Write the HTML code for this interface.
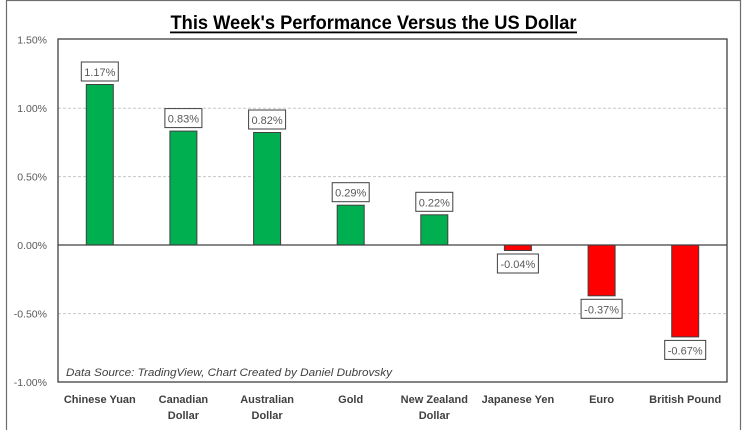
<!DOCTYPE html>
<html>
<head>
<meta charset="utf-8">
<style>
html,body{margin:0;padding:0;background:#fff;}
svg{display:block;}
text{font-family:"Liberation Sans",Arial,sans-serif;}
</style>
</head>
<body>
<svg width="750" height="430" viewBox="0 0 750 430" xmlns="http://www.w3.org/2000/svg">
  <rect x="0" y="0" width="750" height="430" fill="#fff"/>
  <!-- outer chart border -->
  <rect x="6.5" y="0.5" width="734" height="440" fill="none" stroke="#6e6e6e" stroke-width="1.2"/>

  <!-- title -->
  <text x="373.5" y="29" font-size="19" font-weight="bold" fill="#000" text-anchor="middle" textLength="406" lengthAdjust="spacingAndGlyphs">This Week's Performance Versus the US Dollar</text>
  <rect x="170" y="31.5" width="407" height="1.8" fill="#000"/>

  <!-- gridlines -->
  <g stroke="#c8c8c8" stroke-width="1" stroke-dasharray="3,2">
    <line x1="58" y1="108.2" x2="727" y2="108.2"/>
    <line x1="58" y1="176.6" x2="727" y2="176.6"/>
    <line x1="58" y1="313.6" x2="727" y2="313.6"/>
  </g>

  <!-- bars -->
  <g stroke="#404040" stroke-width="1">
    <rect x="86.3" y="84.5" width="27" height="160.5" fill="#00B050"/>
    <rect x="169.9" y="131.1" width="27" height="113.9" fill="#00B050"/>
    <rect x="253.6" y="132.5" width="27" height="112.5" fill="#00B050"/>
    <rect x="337.2" y="205.2" width="27" height="39.8" fill="#00B050"/>
    <rect x="420.8" y="214.8" width="27" height="30.2" fill="#00B050"/>
    <rect x="504.4" y="245" width="27" height="5.5" fill="#FF0000"/>
    <rect x="588.1" y="245" width="27" height="50.8" fill="#FF0000"/>
    <rect x="671.7" y="245" width="27" height="91.9" fill="#FF0000"/>
  </g>

  <!-- plot border -->
  <rect x="58" y="39" width="669" height="343" fill="none" stroke="#404040" stroke-width="1.3"/>
  <!-- zero line -->
  <line x1="58" y1="245" x2="727" y2="245" stroke="#404040" stroke-width="1.3"/>

  <!-- y axis labels -->
  <g font-size="10.5" fill="#595959" text-anchor="end">
    <text x="47" y="43.3">1.50%</text>
    <text x="47" y="112.2">1.00%</text>
    <text x="47" y="180.6">0.50%</text>
    <text x="47" y="249">0.00%</text>
    <text x="47" y="317.6">-0.50%</text>
    <text x="47" y="386">-1.00%</text>
  </g>

  <!-- value labels -->
  <g fill="#fff" stroke="#404040" stroke-width="1">
    <rect x="81.3" y="62" width="37" height="19"/>
    <rect x="164.9" y="108.6" width="37" height="19"/>
    <rect x="248.6" y="110" width="37" height="19"/>
    <rect x="332.2" y="182.7" width="37" height="19"/>
    <rect x="415.8" y="192.3" width="37" height="19"/>
    <rect x="497.4" y="254" width="41" height="19"/>
    <rect x="581.1" y="299.3" width="41" height="19"/>
    <rect x="664.7" y="340.4" width="41" height="19"/>
  </g>
  <g font-size="11" fill="#595959" text-anchor="middle">
    <text x="99.8" y="76">1.17%</text>
    <text x="183.4" y="122.6">0.83%</text>
    <text x="267.1" y="124">0.82%</text>
    <text x="350.7" y="196.7">0.29%</text>
    <text x="434.3" y="206.3">0.22%</text>
    <text x="517.9" y="268">-0.04%</text>
    <text x="601.6" y="313.3">-0.37%</text>
    <text x="685.2" y="354.4">-0.67%</text>
  </g>

  <!-- data source -->
  <text x="66" y="376" font-size="11" font-style="italic" fill="#404040" textLength="326" lengthAdjust="spacingAndGlyphs">Data Source: TradingView, Chart Created by Daniel Dubrovsky</text>

  <!-- category labels -->
  <g font-size="11" font-weight="bold" fill="#404040" text-anchor="middle">
    <text x="99.8" y="403">Chinese Yuan</text>
    <text x="183.4" y="403">Canadian</text>
    <text x="183.4" y="419">Dollar</text>
    <text x="267.1" y="403">Australian</text>
    <text x="267.1" y="419">Dollar</text>
    <text x="350.7" y="403">Gold</text>
    <text x="434.3" y="403">New Zealand</text>
    <text x="434.3" y="419">Dollar</text>
    <text x="517.9" y="403">Japanese Yen</text>
    <text x="601.6" y="403">Euro</text>
    <text x="685.2" y="403">British Pound</text>
  </g>
</svg>
</body>
</html>
